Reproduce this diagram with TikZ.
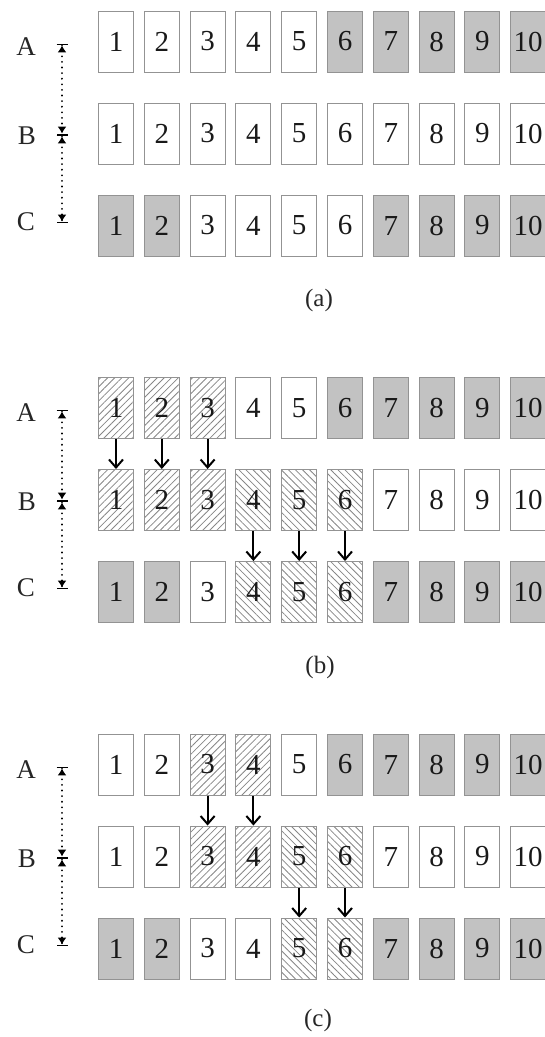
\documentclass[tikz,border=0pt]{standalone}
\usepackage{fontspec}
\setmainfont{Liberation Serif}
\usetikzlibrary{arrows.meta, patterns.meta}
\tikzstyle{blank} = [
    rectangle,
    draw=gray!85,
    line width=1pt,
    minimum width=35pt,
    minimum height=61pt,
    inner sep=0pt,
    text=black!90,
    font=\fontsize{29}{30}\selectfont
]
\tikzstyle{filled} = [blank, fill=gray!48]
\tikzstyle{hatchne} = [
    blank,
    pattern={Lines[angle=45, distance=5pt, line width=0.8pt]},
    pattern color=gray!95
]
\tikzstyle{hatchnw} = [
    blank,
    pattern={Lines[angle=-45, distance=5pt, line width=0.8pt]},
    pattern color=gray!95
]
\tikzstyle{rowlabel} = [text=black!85, font=\fontsize{27}{28}\selectfont]
\tikzstyle{caption} = [text=black!85, font=\fontsize{25}{27}\selectfont]
\tikzstyle{span} = [
    line width=2pt,
    dash pattern=on 0.1pt off 5.5pt,
    line cap=round,
    {Bar[width=11pt,line width=1.4pt]Latex[length=7pt,width=9pt]}-{Latex[length=7pt,width=9pt]Bar[width=11pt,line width=1.4pt]}
]
\tikzstyle{arrow} = [line width=2pt, -{Straight Barb[length=8pt,width=14pt,line width=2pt]}]

\begin{document}
\begin{tikzpicture}[x=1pt, y=-1pt]
\useasboundingbox (0,0) rectangle (544,1037);

% panel (a)
\foreach \s [count=\n] in {blank,blank,blank,blank,blank,filled,filled,filled,filled,filled}
    \node[\s] (aA\n) at ({116+(\n-1)*45.8}, 41.5) {\n};
\foreach \s [count=\n] in {blank,blank,blank,blank,blank,blank,blank,blank,blank,blank}
    \node[\s] (aB\n) at ({116+(\n-1)*45.8}, 133.5) {\n};
\foreach \s [count=\n] in {filled,filled,blank,blank,blank,blank,filled,filled,filled,filled}
    \node[\s] (aC\n) at ({116+(\n-1)*45.8}, 225.5) {\n};

\node (aLa) [rowlabel] at (26, 47) {A};
\node (aLb) [rowlabel] at (27, 136) {B};
\node (aLc) [rowlabel] at (26, 222) {C};
\coordinate (aMa) at (62, 44);
\coordinate (aMb) at (62, 135);
\coordinate (aMc) at (62, 223);
\draw [span] (aMa) -- (aMb);
\draw [span] (aMb) -- (aMc);

\node (capa) [caption] at (319, 300) {(a)};

% panel (b)
\foreach \s [count=\n] in {hatchne,hatchne,hatchne,blank,blank,filled,filled,filled,filled,filled}
    \node[\s] (bA\n) at ({116+(\n-1)*45.8}, 408) {\n};
\foreach \s [count=\n] in {hatchne,hatchne,hatchne,hatchnw,hatchnw,hatchnw,blank,blank,blank,blank}
    \node[\s] (bB\n) at ({116+(\n-1)*45.8}, 500) {\n};
\foreach \s [count=\n] in {filled,filled,blank,hatchnw,hatchnw,hatchnw,filled,filled,filled,filled}
    \node[\s] (bC\n) at ({116+(\n-1)*45.8}, 592) {\n};

\node (bLa) [rowlabel] at (26, 413) {A};
\node (bLb) [rowlabel] at (27, 502) {B};
\node (bLc) [rowlabel] at (26, 588) {C};
\coordinate (bMa) at (62, 410);
\coordinate (bMb) at (62, 501);
\coordinate (bMc) at (62, 589);
\draw [span] (bMa) -- (bMb);
\draw [span] (bMb) -- (bMc);

\foreach \n in {1,2,3}
    \draw [arrow] (bA\n) -- (bB\n);
\foreach \n in {4,5,6}
    \draw [arrow] (bB\n) -- (bC\n);

\node (capb) [caption] at (320, 667) {(b)};

% panel (c)
\foreach \s [count=\n] in {blank,blank,hatchne,hatchne,blank,filled,filled,filled,filled,filled}
    \node[\s] (cA\n) at ({116+(\n-1)*45.8}, 764.5) {\n};
\foreach \s [count=\n] in {blank,blank,hatchne,hatchne,hatchnw,hatchnw,blank,blank,blank,blank}
    \node[\s] (cB\n) at ({116+(\n-1)*45.8}, 856.5) {\n};
\foreach \s [count=\n] in {filled,filled,blank,blank,hatchnw,hatchnw,filled,filled,filled,filled}
    \node[\s] (cC\n) at ({116+(\n-1)*45.8}, 948.5) {\n};

\node (cLa) [rowlabel] at (26, 770) {A};
\node (cLb) [rowlabel] at (27, 859) {B};
\node (cLc) [rowlabel] at (26, 945) {C};
\coordinate (cMa) at (62, 767);
\coordinate (cMb) at (62, 858);
\coordinate (cMc) at (62, 946);
\draw [span] (cMa) -- (cMb);
\draw [span] (cMb) -- (cMc);

\foreach \n in {3,4}
    \draw [arrow] (cA\n) -- (cB\n);
\foreach \n in {5,6}
    \draw [arrow] (cB\n) -- (cC\n);

\node (capc) [caption] at (318, 1020) {(c)};

\end{tikzpicture}
\end{document}
